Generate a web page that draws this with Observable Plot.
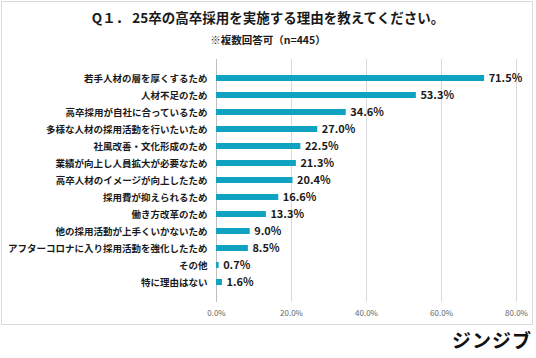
<!DOCTYPE html>
<html>
<head>
<meta charset="utf-8">
<script src="https://cdn.jsdelivr.net/npm/d3@7"></script>
<script src="https://cdn.jsdelivr.net/npm/@observablehq/plot@0.6"></script>
<style>
  html, body { margin: 0; padding: 0; background: #fff; }
  body { font-family: "Noto Sans CJK JP", "Noto Sans", sans-serif; }
  #wrap { position: relative; width: 536px; height: 358px; overflow: hidden; }
  #frame { position: absolute; left: 1px; top: 1px; width: 530px; height: 322px; border: 1px solid #d9d9d9; }
  #title { position: absolute; left: 0; width: 536px; top: 7px; text-align: center; font-size: 13.5px; font-weight: 700; color: #1a1a1a; }
  #subtitle { position: absolute; left: 0; width: 536px; top: 32px; text-align: center; font-size: 10.5px; font-weight: 700; color: #1a1a1a; }
  #chart { position: absolute; left: 0; top: 0; }
  #logo { position: absolute; right: 4px; top: 326px; font-size: 19px; font-weight: 700; color: #111; letter-spacing: 1px; }
</style>
</head>
<body>
<div id="wrap">
  <div id="frame"></div>
  <div id="chart"></div>
  <div id="title">Q１．&nbsp;25卒の高卒採用を実施する理由を教えてください。</div>
  <div id="subtitle">※複数回答可（n=445）</div>
  <div id="logo">ジンジブ</div>
</div>
<script>
const categories = [
  "若手人材の層を厚くするため",
  "人材不足のため",
  "高卒採用が自社に合っているため",
  "多様な人材の採用活動を行いたいため",
  "社風改善・文化形成のため",
  "業績が向上し人員拡大が必要なため",
  "高卒人材のイメージが向上したため",
  "採用費が抑えられるため",
  "働き方改革のため",
  "他の採用活動が上手くいかないため",
  "アフターコロナに入り採用活動を強化したため",
  "その他",
  "特に理由はない"
];
const values = [71.5, 53.3, 34.6, 27.0, 22.5, 21.3, 20.4, 16.6, 13.3, 9.0, 8.5, 0.7, 1.6];
const xTicks = [0, 20, 40, 60, 80];

const data = categories.map((c, i) => ({category: c, value: values[i]}));

const chart = Plot.plot({
  width: 536,
  height: 330,
  marginLeft: 216,
  marginRight: 20,
  marginTop: 59,
  marginBottom: 28,
  style: {fontFamily: '"Noto Sans CJK JP", "Noto Sans", sans-serif', background: "transparent"},
  x: {domain: [0, 80]},
  y: {domain: categories, padding: 0.62},
  marks: [
    Plot.ruleX(xTicks.filter(d => d > 0), {stroke: "#d9d9d9", strokeWidth: 1}),
    Plot.ruleX([0], {stroke: "#bfbfbf", strokeWidth: 1}),
    Plot.barX(data, {x: "value", y: "category", fill: "#10a2c1"}),
    Plot.text(data, {x: "value", y: "category", text: d => d.value.toFixed(1) + "%", textAnchor: "start", dx: 4, fontSize: 11, fontWeight: 600, fill: "#1a1a1a"}),
    Plot.axisX({ticks: xTicks, tickFormat: d => d.toFixed(1) + "%", tickSize: 0, tickPadding: 8, fontSize: 8, color: "#666", label: null}),
    Plot.axisY({tickSize: 0, tickPadding: 9, fontSize: 9.5, fontWeight: 700, color: "#1a1a1a", label: null})
  ]
});
document.getElementById("chart").appendChild(chart);
</script>
</body>
</html>
